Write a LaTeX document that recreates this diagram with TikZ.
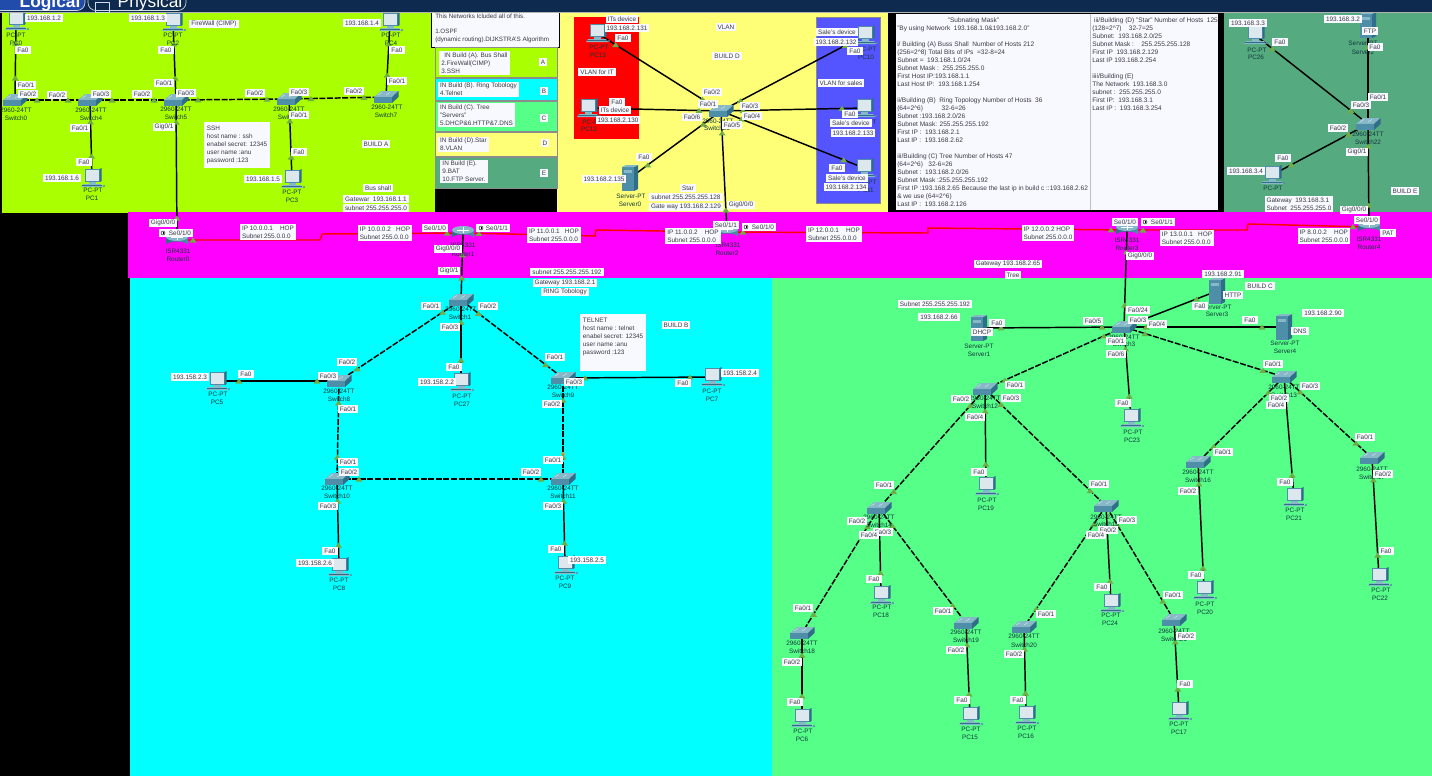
\documentclass[tikz,border=0pt]{standalone}
\usepackage{fontspec}
\setmainfont{Liberation Sans}
\usetikzlibrary{calc}
\definecolor{barnavy}{HTML}{0E2A4E}
\definecolor{limebg}{HTML}{AAFF00}
\definecolor{yellowbg}{HTML}{FFFF77}
\definecolor{seabg}{HTML}{55AA80}
\definecolor{magentabg}{HTML}{FF00FF}
\definecolor{cyanbg}{HTML}{00FFFF}
\definecolor{greenbg}{HTML}{55FF88}
\definecolor{bluebg}{HTML}{5555FF}
\definecolor{redbg}{HTML}{FF0000}
\definecolor{notewhite}{HTML}{F8F8FF}
\definecolor{tipgreen}{HTML}{70AD47}
\definecolor{txtgray}{HTML}{3A3A44}
\definecolor{devtxt}{HTML}{12393C}
\definecolor{teal1}{HTML}{4E8EA8}
\definecolor{teal2}{HTML}{2F6D88}
\definecolor{teal3}{HTML}{86B8C8}
\definecolor{screenc}{HTML}{DCE8EE}
\tikzset{
  devnode/.style={inner sep=0pt,minimum size=0pt,outer sep=0pt},
  solidlink/.style={draw=black,line width=1.1pt},
  dashlink/.style={draw=black,line width=1.1pt,dash pattern=on 4.5pt off 1.2pt},
  seriallink/.style={draw=redbg,line width=1.1pt},
  whitelab/.style={fill=notewhite,text=txtgray,font=\fontsize{4.8}{6}\selectfont,inner xsep=1.5pt,inner ysep=1pt,align=left},
  devlab/.style={text=devtxt,font=\fontsize{4.8}{6}\selectfont,inner sep=0pt},
  notetext/.style={text=txtgray,font=\fontsize{4.9}{6}\selectfont,inner sep=0pt,align=left,anchor=north west},
  bandbox/.style={draw=black!45,line width=0.5pt},
}
\newcount\labcnt
\newcommand\alltips{}
\makeatletter
\newcommand\addtips[1]{\g@addto@macro\alltips{#1}}
\makeatother
\newcommand\wl[3]{\global\advance\labcnt by 1 \node[whitelab] (lab\the\labcnt) at (#1,#2) {#3};}
\newcommand\dl[3]{\global\advance\labcnt by 1 \node[devlab] (lab\the\labcnt) at (#1,#2) {#3};}
\newcommand\dd[2]{\dl{#1}{#2}{PC-PT}}
\newcommand\dev[3]{\node[devnode] (#1) at (#2,#3) {};}
\newcommand\tipmark[1]{\fill[tipgreen] #1 ++(0,-2.5) -- ++(3.5,5) -- ++(-7,0) -- cycle;}
\newcommand\lnk[3][solidlink]{\draw[#1] (#2) -- (#3);\addtips{\tipmark{($(#2)!16.5pt!(#3)$)}\tipmark{($(#3)!16.5pt!(#2)$)}}}
\newcommand\serial[4]{\draw[seriallink] (#1) -- #3 -- #4 -- (#2);\addtips{\tipmark{($(#1)!12pt!#3$)}\tipmark{($(#2)!12pt!#4$)}}}
\newcommand\pcicon[1]{\begin{scope}[shift={(#1)}]
  \fill[teal1] (-7,-9) rectangle (9,4);
  \fill[teal2] (7.5,-9) -- (9.5,-10) -- (9.5,3) -- (7.5,4) -- cycle;
  \fill[screenc] (-6,-8) rectangle (6.5,3);
  \fill[teal3] (-3,4) rectangle (4,6);
  \fill[teal3] (-9,6) -- (9,6) -- (11,9) -- (-11,9) -- cycle;
  \draw[teal2,line width=0.3pt] (-10,7.5) -- (10,7.5);
  \fill[teal1] (12,8) circle (1.2);
\end{scope}}
\newcommand\swicon[1]{\begin{scope}[shift={(#1)}]
  \fill[teal3] (-12,0) -- (-5,-6) -- (12.5,-6) -- (6,0) -- cycle;
  \fill[teal1] (-12,0) rectangle (6,6);
  \fill[teal2] (6,0) -- (12.5,-6) -- (12.5,0) -- (6,6) -- cycle;
  \draw[white!80!teal1,line width=0.3pt] (-8,-2) -- (-4,-4.5) (0,-2) -- (4,-4.5);
\end{scope}}
\newcommand\rticon[1]{\begin{scope}[shift={(#1)}]
  \shade[left color=teal2,middle color=white!85!teal1,right color=teal1] (-11,-3) -- (-11,5) arc[start angle=180,end angle=360,x radius=11,y radius=3.5] -- (11,-3) -- cycle;
  \fill[teal3] (0,-3) ellipse (11 and 4);
  \draw[white,line width=0.3pt] (-6,-3) -- (6,-3) (0,-6) -- (0,0);
\end{scope}}
\newcommand\srvicon[1]{\begin{scope}[shift={(#1)}]
  \fill[teal1] (-8,-11) rectangle (4,13);
  \fill[teal2] (4,-11) -- (8,-13) -- (8,11) -- (4,13) -- cycle;
  \fill[teal3] (-8,-11) -- (-4,-13) -- (8,-13) -- (4,-11) -- cycle;
  \fill[teal3] (-6,-8) rectangle (2,-5);
\end{scope}}
\newcommand\clk[2]{\draw[black,line width=0.3pt,fill=white] (#1,#2) circle (2);\draw[black,line width=0.3pt] (#1,#2) -- ++(0,-1.5) (#1,#2) -- ++(1.2,0);}
\begin{document}
\begin{tikzpicture}[x=0.75pt,y=-0.75pt]
\useasboundingbox (0,0) rectangle (1432,776);
%% ---------- backgrounds
\fill[black] (0,0) rectangle (1432,776);
\fill[limebg] (2,12) rectangle (436,213);
\fill[black] (435,188) rectangle (557,213);
\fill[yellowbg] (557,12) rectangle (888,213);
\fill[seabg] (1224,12) rectangle (1432,213);
\fill[magentabg] (128,212) rectangle (1432,278);
\fill[cyanbg] (130,278) rectangle (772,776);
\fill[greenbg] (772,278) rectangle (1432,776);
\fill[redbg] (574,17) rectangle (639,139);
\fill[bluebg,draw=black!45,line width=0.6pt] (816,17) rectangle (880,203);
%% legend bands
\fill[notewhite,draw=black,line width=0.7pt] (431,12) rectangle (559,47);
\fill[limebg,bandbox] (435,47) rectangle (557,77);
\fill[cyanbg,bandbox] (435,78) rectangle (557,100);
\fill[greenbg,bandbox] (435,101) rectangle (557,131);
\fill[yellowbg,bandbox] (435,132) rectangle (557,156);
\fill[seabg,bandbox] (435,157) rectangle (557,188);
%% note panel
\fill[notewhite] (896,14) rectangle (1218,210);
\draw[black!25,line width=0.3pt] (1090,14) -- (1090,210);
%% ---------- device positions
\dev{pc0}{16}{21}\dev{pc2}{173}{22}\dev{pc4}{390}{22}\dev{pc1}{92}{178}\dev{pc3}{292}{179}
\dev{sw0}{15}{100}\dev{sw4}{90}{100}\dev{sw5}{176}{100}\dev{sw6}{289}{99}\dev{sw7}{386}{97}
\dev{rt0}{177}{240}\dev{rt1}{463}{233}\dev{rt2}{727}{232}\dev{rt3}{1127}{230}\dev{rt4}{1369}{227}
\dev{pc13}{597}{33}\dev{pc12}{588}{108}\dev{pc10}{865}{35}\dev{pc14}{864}{108}\dev{pc11}{864}{168}
\dev{srv0}{630}{178}\dev{sw23}{721}{111}
\dev{pc26}{1255}{35}\dev{srv2}{1368}{25}\dev{sw22}{1368}{124}\dev{pc25}{1272}{175}
\dev{sw1}{461}{300}\dev{sw8}{339}{381}\dev{sw9}{563}{378}\dev{sw10}{337}{479}\dev{sw11}{563}{479}
\dev{pc5}{217}{381}\dev{pc27}{461}{382}\dev{pc7}{712}{377}\dev{pc8}{339}{567}\dev{pc9}{565}{565}
\dev{sw3}{1124}{327}\dev{srv1}{979}{328}\dev{srv3}{1217}{291}\dev{srv4}{1284}{327}\dev{pc23}{1131}{418}
\dev{sw12}{985}{389}\dev{sw13}{1284}{377}\dev{sw14}{879}{508}\dev{sw15}{1106}{506}\dev{sw16}{1198}{462}\dev{sw17}{1372}{458}
\dev{sw18}{802}{633}\dev{sw19}{966}{623}\dev{sw20}{1024}{627}\dev{sw21}{1174}{620}
\dev{pc19}{986}{486}\dev{pc18}{881}{595}\dev{pc24}{1111}{603}\dev{pc20}{1204}{590}\dev{pc21}{1294}{497}\dev{pc22}{1379}{577}
\dev{pc6}{802}{718}\dev{pc15}{970}{716}\dev{pc16}{1026}{715}\dev{pc17}{1179}{711}
%% ---------- links
\lnk{pc0}{sw0}\lnk[dashlink]{sw0}{sw4}\lnk[dashlink]{sw4}{sw5}\lnk[dashlink]{sw5}{sw6}\lnk[dashlink]{sw6}{sw7}
\lnk{sw4}{pc1}\lnk{sw5}{pc2}\lnk{sw6}{pc3}\lnk{sw7}{pc4}\lnk{sw5}{rt0}
\lnk{sw23}{pc13}\lnk{sw23}{pc12}\lnk{sw23}{pc10}\lnk{sw23}{pc14}\lnk{sw23}{pc11}\lnk{sw23}{srv0}\lnk{sw23}{rt2}
\lnk{pc26}{sw22}\lnk{srv2}{sw22}\lnk{pc25}{sw22}\lnk{sw22}{rt4}
\lnk{rt1}{sw1}\lnk{sw1}{pc27}\lnk[dashlink]{sw1}{sw8}\lnk[dashlink]{sw1}{sw9}\lnk[dashlink]{sw8}{sw10}\lnk[dashlink]{sw9}{sw11}\lnk[dashlink]{sw10}{sw11}
\lnk{sw8}{pc5}\lnk{sw9}{pc7}\lnk{sw10}{pc8}\lnk{sw11}{pc9}
\lnk{rt3}{sw3}\lnk{sw3}{srv1}\lnk{sw3}{srv3}\lnk{sw3}{srv4}\lnk{sw3}{pc23}
\lnk[dashlink]{sw3}{sw12}\lnk[dashlink]{sw3}{sw13}\lnk{sw12}{pc19}\lnk[dashlink]{sw12}{sw14}\lnk[dashlink]{sw12}{sw15}
\lnk[dashlink]{sw14}{sw18}\lnk{sw14}{pc18}\lnk[dashlink]{sw14}{sw19}\lnk[dashlink]{sw15}{sw20}\lnk{sw15}{pc24}\lnk[dashlink]{sw15}{sw21}
\lnk{sw18}{pc6}\lnk{sw19}{pc15}\lnk{sw20}{pc16}\lnk{sw21}{pc17}
\lnk[dashlink]{sw13}{sw16}\lnk{sw13}{pc21}\lnk[dashlink]{sw13}{sw17}\lnk{sw16}{pc20}\lnk{sw17}{pc22}
\serial{rt0}{rt1}{(320,240)}{(322,234)}
\serial{rt1}{rt2}{(595,236)}{(596,230)}
\serial{rt2}{rt3}{(928,233)}{(928,228)}
\serial{rt3}{rt4}{(1247,230)}{(1248,224)}
%% ---------- icons
\foreach \n in {pc0,pc1,pc2,pc3,pc4,pc5,pc6,pc7,pc8,pc9,pc10,pc11,pc12,pc13,pc14,pc15,pc16,pc17,pc18,pc19,pc20,pc21,pc22,pc23,pc24,pc25,pc26,pc27}{\pcicon{\n}}
\foreach \n in {sw0,sw1,sw3,sw4,sw5,sw6,sw7,sw8,sw9,sw10,sw11,sw12,sw13,sw14,sw15,sw16,sw17,sw18,sw19,sw20,sw21,sw22,sw23}{\swicon{\n}}
\foreach \n in {rt0,rt1,rt2,rt3,rt4}{\rticon{\n}}
\foreach \n in {srv0,srv1,srv2,srv3,srv4}{\srvicon{\n}}
\alltips
\fill[orange] (563,454) circle (1.8);
%% ---------- device captions
\dd{16}{35}\dl{16}{43}{PC0}\dd{173}{35}\dl{173}{43}{PC2}\dd{391}{35}\dl{391}{43}{PC4}
\dd{93}{190}\dl{92}{198}{PC1}\dd{292}{192}\dl{292}{200}{PC3}
\dl{16}{110}{2960-24TT}\dl{16}{118}{Switch0}\dl{91}{110}{2960-24TT}\dl{91}{118}{Switch4}
\dl{176}{109}{2960-24TT}\dl{176}{117}{Switch5}\dl{289}{109}{2960-24TT}\dl{289}{117}{Switch6}
\dl{387}{107}{2960-24TT}\dl{386}{115}{Switch7}
\dl{178}{251}{ISR4331}\dl{178}{259}{Router0}\dl{463}{245}{ISR4331}\dl{463}{254}{Router1}
\dl{728}{245}{ISR4331}\dl{727}{253}{Router2}\dl{1127}{240}{ISR4331}\dl{1127}{248}{Router3}
\dl{1369}{239}{ISR4331}\dl{1369}{247}{Router4}
\dd{599}{47}\dl{598}{55}{PC13}\dd{592}{122}\dl{589}{129}{PC12}
\dd{867}{49}\dl{866}{57}{PC10}\dd{867}{122}\dd{867}{182}\dl{866}{190}{PC11}
\dl{631}{196}{Server-PT}\dl{630}{204}{Server0}\dl{718}{121}{2960-24TT}\dl{717}{128}{Switch23}
\dd{1257}{50}\dl{1256}{57}{PC26}\dd{1273}{188}
\dl{1363}{43}{Server-PT}\dl{1363}{52}{Server2}\dl{1368}{134}{2960-24TT}\dl{1368}{142}{Switch22}
\dl{461}{309}{2960-24TT}\dl{460}{317}{Switch1}\dl{339}{391}{2960-24TT}\dl{339}{399}{Switch8}
\dl{563}{387}{2960-24TT}\dl{563}{395}{Switch9}\dl{337}{488}{2960-24TT}\dl{337}{496}{Switch10}
\dl{563}{488}{2960-24TT}\dl{563}{496}{Switch11}
\dd{218}{394}\dl{217}{402}{PC5}\dd{462}{396}\dl{462}{404}{PC27}\dd{712}{391}\dl{712}{399}{PC7}
\dd{339}{580}\dl{339}{588}{PC8}\dd{565}{578}\dl{565}{586}{PC9}
\dl{1124}{337}{2960-24TT}\dl{1124}{344}{Switch3}
\dl{979}{346}{Server-PT}\dl{979}{354}{Server1}\dl{1217}{307}{Server-PT}\dl{1217}{314}{Server3}
\dl{1285}{343}{Server-PT}\dl{1285}{351}{Server4}\dd{1133}{432}\dl{1132}{440}{PC23}
\dl{985}{398}{2960-24TT}\dl{985}{406}{Switch12}\dl{1284}{387}{2960-24TT}\dl{1284}{395}{Switch13}
\dl{879}{517}{2960-24TT}\dl{879}{525}{Switch14}\dl{1106}{517}{2960-24TT}\dl{1106}{524}{Switch15}
\dl{1198}{472}{2960-24TT}\dl{1198}{480}{Switch16}\dl{1372}{469}{2960-24TT}\dl{1372}{477}{Switch17}
\dl{802}{643}{2960-24TT}\dl{802}{651}{Switch18}\dl{966}{632}{2960-24TT}\dl{966}{640}{Switch19}
\dl{1024}{636}{2960-24TT}\dl{1024}{645}{Switch20}\dl{1174}{631}{2960-24TT}\dl{1174}{639}{Switch21}
\dd{987}{500}\dl{986}{508}{PC19}\dd{882}{607}\dl{881}{615}{PC18}\dd{1111}{615}\dl{1110}{623}{PC24}
\dd{1205}{604}\dl{1205}{612}{PC20}\dd{1295}{510}\dl{1294}{518}{PC21}\dd{1381}{590}\dl{1380}{598}{PC22}
\dd{803}{731}\dl{802}{739}{PC6}\dd{971}{729}\dl{970}{737}{PC15}\dd{1027}{728}\dl{1026}{736}{PC16}\dd{1179}{724}\dl{1179}{732}{PC17}
%% ---------- white labels: Build A
\wl{44}{18}{193.168.1.2}\wl{148}{18}{193.168.1.3}\wl{214}{24}{FireWall (CIMP)}\wl{362}{23}{193.168.1.4}
\wl{23}{50}{Fa0}\wl{166}{50}{Fa0}\wl{397}{50}{Fa0}
\wl{26}{85}{Fa0/1}\wl{28}{94}{Fa0/2}\wl{57}{95}{Fa0/2}\wl{101}{94}{Fa0/3}\wl{142}{94}{Fa0/2}\wl{164}{83}{Fa0/1}
\wl{186}{93}{Fa0/3}\wl{255}{93}{Fa0/2}\wl{299}{92}{Fa0/3}\wl{299}{115}{Fa0/1}\wl{354}{91}{Fa0/2}\wl{397}{81}{Fa0/1}
\wl{80}{128}{Fa0/1}\wl{164}{127}{Gig0/1}\wl{84}{162}{Fa0}\wl{299}{152}{Fa0}\wl{62}{178}{193.168.1.6}\wl{263}{179}{193.168.1.5}
\node[whitelab,anchor=north west,inner ysep=3pt,inner xsep=2pt] (sshbox) at (204,122) {SSH\\host name : ssh\\enabel secret: 12345\\user name :anu\\password :123};
\wl{376}{144}{BUILD A}\wl{378}{188}{Bus shall}\wl{376}{199}{Gatewar\ \ 193.168.1.1}\wl{376}{208}{subnet 255.255.255.0}
%% Routers band
\wl{163}{223}{Gig0/0/0}\wl{176}{233}{\hspace{6pt}Se0/1/0}
\wl{268}{232}{IP 10.0.0.1\ \ \ \ HOP\\Subnet 255.0.0.0}
\wl{385}{233}{IP 10.0.0.2\ \ \ HOP\\Subnet 255.0.0.0}
\wl{435}{228}{Se0/1/0}\wl{493}{228}{\hspace{6pt}Se0/1/1}\wl{448}{249}{Gig0/0/0}\wl{449}{271}{Gig0/1}
\wl{554}{235}{IP 11.0.0.1\ \ \ HOP\\Subnet 255.0.0.0}
\wl{693}{236}{IP 11.0.0.2\ \ \ \ HOP\\Subnet 255.0.0.0}
\wl{726}{225}{Se0/1/1}\wl{759}{227}{\hspace{6pt}Se0/1/0}\wl{741}{205}{Gig0/0/0}
\wl{834}{234}{IP 12.0.0.1\ \ \ \ HOP\\Subnet 255.0.0.0}
\wl{1048}{233}{IP 12.0.0.2 HOP\\Subnet 255.0.0.0}
\wl{1125}{222}{Se0/1/0}\wl{1158}{222}{\hspace{6pt}Se0/1/1}\wl{1187}{238}{IP 13.0.0.1\ \ \ HOP\\Subnet 255.0.0.0}
\wl{1140}{256}{Gig0/0/0}\wl{1008}{264}{Gateway 193.168.2.65}\wl{1013}{275}{Tree}
\wl{1324}{236}{IP 8.0.0.2\ \ \ \ HOP\\Subnet 255.0.0.0}\wl{1354}{210}{Gig0/0/0}\wl{1367}{220}{Se0/1/0}\wl{1388}{233}{PAT}
\clk{163}{233}\clk{481}{228}\clk{746}{227}\clk{1145}{222}
%% Legend
\node[notetext,font=\fontsize{4.7}{6}\selectfont,anchor=north west] (legendtop) at (435,14) {This Networks Icluded all of this.\\[2pt]\strut\\[-3pt]1.OSPF\\(dynamic routing).DIJKSTRA'S Algorithm};
\wl{474.5}{63}{\ \,IN Build (A). Bus Shall\\2.FireWall(CIMP)\\3.SSH}\wl{543}{62}{A}
\wl{478.5}{89.5}{IN Build (B). Ring Tobology\\4.Telnet}\wl{544}{91}{B}
\wl{476.5}{115}{IN Build (C). Tree\\"Servers"\\5.DHCP\&6.HTTP\&7.DNS}\wl{544}{118}{C}
\wl{463.5}{144.5}{IN Build (D).Star\\8.VLAN}\wl{545}{143}{D}
\wl{464}{171.5}{IN Build (E).\\9.BAT\\10.FTP Server.}\wl{544}{173}{E}
%% Build D
\wl{622}{19}{ITs device}\wl{627}{28}{193.168.2.131}\wl{623}{38}{Fa0}\wl{597}{72}{VLAN for IT}
\wl{617}{102}{Fa0}\wl{615}{110}{ITs device}\wl{618}{120}{193.168.2.130}
\wl{726}{27}{VLAN}\wl{727}{56}{BUILD D}
\wl{837}{32}{Sale's device}\wl{836}{42}{193.168.2.132}\wl{855}{51}{Fa0}\wl{841}{83}{VLAN for sales}
\wl{850}{114}{Fa0}\wl{851}{123}{Sale's device}\wl{853}{133}{193.168.2.133}
\wl{837}{168}{Fa0}\wl{847}{178}{Sale's device}\wl{846}{187}{193.168.2.134}
\wl{712}{92}{Fa0/2}\wl{708}{104}{Fa0/1}\wl{692}{117}{Fa0/6}\wl{750}{106}{Fa0/3}\wl{752}{116}{Fa0/4}\wl{732}{125}{Fa0/5}
\wl{644}{157}{Fa0}\wl{604}{179}{193.168.2.135}\wl{688}{188}{Star}\wl{686}{197}{subnet 255.255.255.128}\wl{686}{207}{Gate way 193.168.2.129}
%% Build E
\wl{1248}{23}{193.168.3.3}\wl{1343}{19}{193.168.3.2}\wl{1370}{31}{FTP}\wl{1280}{42}{Fa0}\wl{1375}{47}{Fa0}
\wl{1378}{97}{Fa0/1}\wl{1361}{105}{Fa0/3}\wl{1338}{128}{Fa0/2}\wl{1357}{152}{Gig0/1}\wl{1283}{158}{Fa0}\wl{1246}{171}{193.168.3.4}
\wl{1405}{191}{BUILD E}\wl{1299}{204}{Gateway\ \ 193.168.3.1\\Subnet\ \ 255.255.255.0}
%% Build B
\wl{431}{306}{Fa0/1}\wl{488}{306}{Fa0/2}\wl{450}{327}{Fa0/3}\wl{567}{272}{subnet 255.255.255.192}\wl{565}{283}{Gateway 193.168.2.1}\wl{565}{292}{RING Tobology}
\node[whitelab,anchor=north west,inner ysep=3pt,inner xsep=2pt,minimum width=48pt,minimum height=38pt] (telnetbox) at (580,314) {TELNET\\host name : telnet\\enabel secret: 12345\\user name :anu\\password :123\\[3pt]};
\wl{676}{325}{BUILD B}
\wl{347}{362}{Fa0/2}\wl{328}{376}{Fa0/3}\wl{348}{409}{Fa0/1}\wl{246}{374}{Fa0}\wl{190}{377}{193.158.2.3}
\wl{437}{382}{193.158.2.2}\wl{454}{367}{Fa0}\wl{555}{357}{Fa0/1}\wl{574}{382}{Fa0/3}\wl{552}{404}{Fa0/2}
\wl{740}{373}{193.158.2.4}\wl{683}{383}{Fa0}\wl{348}{462}{Fa0/1}\wl{349}{472}{Fa0/2}\wl{328}{506}{Fa0/3}
\wl{553}{460}{Fa0/1}\wl{531}{472}{Fa0/2}\wl{553}{506}{Fa0/3}\wl{315}{563}{193.158.2.6}\wl{330}{551}{Fa0}
\wl{587}{560}{193.158.2.5}\wl{556}{549}{Fa0}
%% Build C
\wl{1138}{310}{Fa0/24}\wl{1138}{320}{Fa0/3}\wl{1093}{321}{Fa0/5}\wl{1157}{324}{Fa0/4}\wl{1116}{341}{Fa0/1}\wl{1116}{354}{Fa0/6}
\wl{1200}{306}{Fa0}\wl{997}{323}{Fa0}\wl{1250}{320}{Fa0}
\wl{982}{332}{DHCP}\wl{935}{304}{Subnet 255.255.255.192}\wl{939}{317}{193.168.2.66}
\wl{1223}{274}{193.168.2.91}\wl{1233}{295}{HTTP}\wl{1260}{286}{BUILD C}\wl{1300}{331}{DNS}\wl{1323}{313}{193.168.2.90}
\wl{1123}{403}{Fa0}\wl{1015}{385}{Fa0/1}\wl{961}{399}{Fa0/2}\wl{1011}{398}{Fa0/3}\wl{975}{417}{Fa0/4}
\wl{1273}{364}{Fa0/1}\wl{1310}{386}{Fa0/3}\wl{1279}{398}{Fa0/2}\wl{1276}{405}{Fa0/4}
\wl{979}{472}{Fa0}\wl{1223}{452}{Fa0/1}\wl{1188}{491}{Fa0/2}\wl{1196}{575}{Fa0}\wl{1285}{482}{Fa0}
\wl{1365}{437}{Fa0/1}\wl{1383}{474}{Fa0/2}\wl{1386}{551}{Fa0}
\wl{884}{485}{Fa0/1}\wl{857}{521}{Fa0/2}\wl{883}{532}{Fa0/3}\wl{869}{535}{Fa0/4}\wl{874}{579}{Fa0}
\wl{803}{608}{Fa0/1}\wl{792}{662}{Fa0/2}\wl{795}{702}{Fa0}\wl{943}{611}{Fa0/1}\wl{956}{650}{Fa0/2}\wl{962}{700}{Fa0}
\wl{1099}{484}{Fa0/1}\wl{1127}{520}{Fa0/3}\wl{1108}{530}{Fa0/2}\wl{1096}{535}{Fa0/4}\wl{1102}{587}{Fa0}
\wl{1046}{614}{Fa0/1}\wl{1014}{654}{Fa0/2}\wl{1018}{700}{Fa0}\wl{1173}{595}{Fa0/1}\wl{1186}{636}{Fa0/2}\wl{1185}{684}{Fa0}
%% Notes panel
\node[notetext] (noteleft) at (897,17.5) {\hspace{38pt}"Subnating Mask"\\
"By using Network\ \ 193.168.1.0\&193.168.2.0"\\
\strut\\
i/ Building (A) Buss Shall\ \ Number of Hosts 212\\
(256=2\^{}8) Total Bits of IPs\ \ =32-8=24\\
Subnet =\ \ 193.168.1.0/24\\
Subnet Mask :\ \ 255.255.255.0\\
First Host IP:193.168.1.1\\
Last Host IP:\ \ 193.168.1.254\\
\strut\\
ii/Building (B)\ \ Ring Topology Number of Hosts\ \ 36\\
(64=2\^{}6)\hspace{14pt}32-6=26\\
Subnet :193.168.2.0/26\\
Subnet Mask: 255.255.255.192\\
First IP :\ \ 193.168.2.1\\
Last IP :\ \ 193.168.2.62\\
\strut\\
iii/Building (C) Tree Number of Hosts 47\\
(64=2\^{}6)\ \ \ 32-6=26\\
Subnet :\ \ 193.168.2.0/26\\
Subnet Mask :255.255.255.192\\
First IP :193.168.2.65 Because the last ip in build c ::193.168.2.62\\
\& we use (64=2\^{}6)\\
Last IP :\ \ 193.168.2.126};
\node[notetext] (noteright) at (1092,17.5) {\ iii/Building (D) "Star" Number of Hosts\ \ 125\\
(128=2\^{}7)\ \ \ \ 32-7=25\\
Subnet:\ \ 193.168.2.0/25\\
Subnet Mask :\ \ \ \ 255.255.255.128\\
First IP\ \ 193.168.2.129\\
Last IP 193.168.2.254\\
\strut\\
iiii/Building (E)\\
The Network\ \ 193.168.3.0\\
subnet :\ \ 255.255.255.0\\
First IP:\ \ 193.168.3.1\\
Last IP :\ \ 193.168.3.254};
%% ---------- top bar
\fill[barnavy] (0,0) rectangle (1432,12);
\draw[black!30,line width=0.4pt] (0,12.3) -- (1432,12.3);
\begin{scope}
\clip (0,0) rectangle (1432,12);
\fill[teal2!70!blue,draw=white!70!teal1,line width=0.5pt,rounded corners=6pt] (-10,-12) rectangle (85,10.5);
\draw[white!70!teal1,line width=0.5pt,rounded corners=6pt] (88,-12) rectangle (186,10.5);
\draw[white!70!teal1,line width=0.5pt] (95,2) rectangle (109,12);
\node[anchor=center,text=white,font=\bfseries\fontsize{13}{14}\selectfont,inner sep=0pt] (tablogical) at (50,3) {Logical};
\node[anchor=center,text=white,font=\fontsize{13}{14}\selectfont,inner sep=0pt] (tabphysical) at (150,3) {Physical};
\end{scope}
\end{tikzpicture}
\end{document}
